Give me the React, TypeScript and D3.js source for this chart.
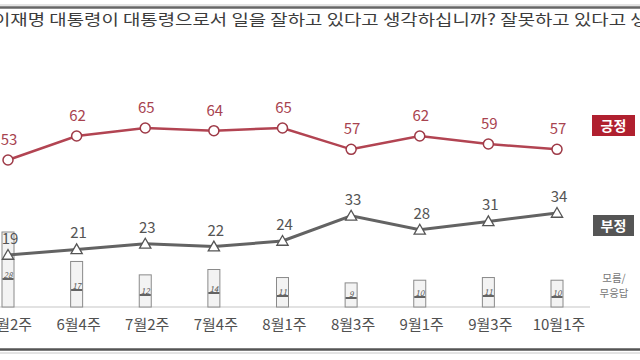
import React from "react";
import * as d3 from "d3";

const categories = ["5월2주", "6월4주", "7월2주", "7월4주", "8월1주", "8월3주", "9월1주", "9월3주", "10월1주"];
const positive = [53, 62, 65, 64, 65, 57, 62, 59, 57];
const negative = [19, 21, 23, 22, 24, 33, 28, 31, 34];
const unknown = [28, 17, 12, 14, 11, 9, 10, 11, 10];
const title = "이재명 대통령이 대통령으로서 일을 잘하고 있다고 생각하십니까? 잘못하고 있다고 생각하십니까?";

const FONT = "'Noto Sans CJK KR', 'Noto Sans', sans-serif";

export default function App() {
  const W = 640, H = 360;
  const x = d3.scalePoint<string>().domain(categories).range([8, 557]).padding(0);
  const yPos = d3.scaleLinear().domain([53, 65]).range([160, 128]);
  const yNeg = d3.scaleLinear().domain([19, 34]).range([255, 213]);
  const yBar = d3.scaleLinear().domain([0, 28]).range([307, 232]);
  const yBarLabel = d3.scaleLinear().domain([0, 28]).range([307, 279]);

  const posLine = d3.line<number>().x((_, i) => x(categories[i])!).y((d) => yPos(d));
  const negLine = d3.line<number>().x((_, i) => x(categories[i])!).y((d) => yNeg(d));
  const tri = d3.symbol().type(d3.symbolTriangle).size(55)()!;

  return (
    <svg width={W} height={H} style={{ position: "absolute", left: 0, top: 0, background: "#fff" }} fontFamily={FONT}>
      <rect x={0} y={0} width={W} height={H} fill="#fff" />
      {/* top border */}
      <line x1={0} x2={W} y1={5} y2={5} stroke="#c8c8c8" strokeWidth={1} />
      <line x1={0} x2={W} y1={7.5} y2={7.5} stroke="#666" strokeWidth={2.5} />
      {/* title */}
      <text x={-7} y={25} fontSize={15} fill="#3c3c3c" textLength={672} lengthAdjust="spacingAndGlyphs">
        {title.slice(0, 46)}
      </text>

      {/* baseline */}
      <line x1={0} x2={590} y1={307} y2={307} stroke="#d8d8d8" strokeWidth={1.5} />

      {/* unknown bars */}
      {unknown.map((v, i) => {
        const cx = x(categories[i])!;
        const ly = yBarLabel(Math.max(v, 9));
        return (
          <g key={"b" + i}>
            <rect x={cx - 6} y={yBar(v)} width={12} height={307 - yBar(v)} fill="#f3f3f3" stroke="#8a8a8a" strokeWidth={1} />
            <line x1={cx - 5.5} x2={cx + 5.5} y1={ly} y2={ly} stroke="#333" strokeWidth={1.5} />
            <text x={cx} y={ly - 1.5} fontSize={8} fill="#555" textAnchor="middle" fontStyle="italic">{v}</text>
          </g>
        );
      })}

      {/* positive */}
      <path d={posLine(positive)!} fill="none" stroke="#b24452" strokeWidth={2.5} />
      {positive.map((v, i) => (
        <g key={"p" + i}>
          <circle cx={x(categories[i])!} cy={yPos(v)} r={5} fill="#fff" stroke="#9e3a47" strokeWidth={1.5} />
          <text x={x(categories[i])! + 1} y={yPos(v) - 15} fontSize={15} fill="#a8434f" textAnchor="middle">{v}</text>
        </g>
      ))}

      {/* negative */}
      <path d={negLine(negative)!} fill="none" stroke="#636363" strokeWidth={3} />
      {negative.map((v, i) => (
        <g key={"n" + i}>
          <path d={tri} transform={`translate(${x(categories[i])!},${yNeg(v) + 1})`} fill="#fff" stroke="#555" strokeWidth={1.3} />
          <text x={x(categories[i])! + 2} y={yNeg(v) - 11} fontSize={15} fill="#555" textAnchor="middle">{v}</text>
        </g>
      ))}

      {/* x labels */}
      {categories.map((c) => (
        <text key={c} x={x(c)! + 2} y={330} fontSize={15} fill="#505050" textAnchor="middle">{c}</text>
      ))}

      {/* legend boxes */}
      <rect x={592} y={115} width={43} height={21} fill="#b0202f" />
      <text x={613.5} y={131} fontSize={14} fontWeight="bold" fill="#fff" textAnchor="middle">긍정</text>
      <rect x={593} y={215} width={41} height={21} fill="#555" />
      <text x={613.5} y={231} fontSize={14} fontWeight="bold" fill="#fff" textAnchor="middle">부정</text>
      <text x={614} y={282} fontSize={10.5} fill="#777" textAnchor="middle">모름/</text>
      <text x={614} y={297} fontSize={10.5} fill="#777" textAnchor="middle">무응답</text>

      {/* bottom border */}
      <line x1={0} x2={W} y1={349.5} y2={349.5} stroke="#555" strokeWidth={2.5} />
      <line x1={0} x2={W} y1={353} y2={353} stroke="#c8c8c8" strokeWidth={1} />
    </svg>
  );
}
